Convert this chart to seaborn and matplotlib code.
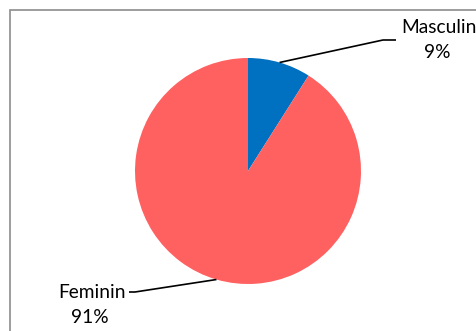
import numpy as np
import matplotlib
matplotlib.use("Agg")
import matplotlib.pyplot as plt
import seaborn as sns
from matplotlib.patches import Rectangle

categories = ["Masculin", "Feminin"]
values = [9, 91]
colors = ["#0070C0", "#FF6161"]

sns.set_theme(style="white")
plt.rcParams["font.family"] = ["Lato", "DejaVu Sans"]

W, H = 476, 331
fig = plt.figure(figsize=(W / 100, H / 100), dpi=100)
ax = fig.add_axes([0, 0, 1, 1])

cx, cy, r = 248, H - 171, 113
wedges, _ = ax.pie(values, colors=colors, startangle=90, counterclock=False,
                   center=(cx, cy), radius=r, frame=True,
                   wedgeprops=dict(linewidth=0))
ax.set_xlim(0, W)
ax.set_ylim(0, H)
ax.set_axis_off()

# chart area border
ax.add_patch(Rectangle((9.5, -20), W + 20, H - 9.5 + 20, fill=False,
                       edgecolor="#8c8c8c", linewidth=1.2))

total = sum(values)
pct = [f"{round(v / total * 100)}%" for v in values]

# leader lines: from the wedge mid-angle on the rim to the label
elbows = [((383, H - 40), (396, H - 40)), ((135, H - 292), (129, H - 292))]
name_pos = [(439, H - 33), (92, H - 298)]
pct_pos = [(437, H - 58), (90, H - 323)]
for w, (p1, p2), npos, ppos, cat, p in zip(wedges, elbows, name_pos, pct_pos,
                                            categories, pct):
    ang = np.deg2rad((w.theta1 + w.theta2) / 2)
    sx, sy = cx + r * np.cos(ang), cy + r * np.sin(ang)
    ax.plot([sx, p1[0], p2[0]], [sy, p1[1], p2[1]], color="black", lw=1.2,
            solid_capstyle="butt")
    ax.text(*npos, cat, ha="center", va="baseline", fontsize=13.8, color="black")
    ax.text(*ppos, p, ha="center", va="baseline", fontsize=13.8, color="black")

fig.savefig("out.png", dpi=100)
